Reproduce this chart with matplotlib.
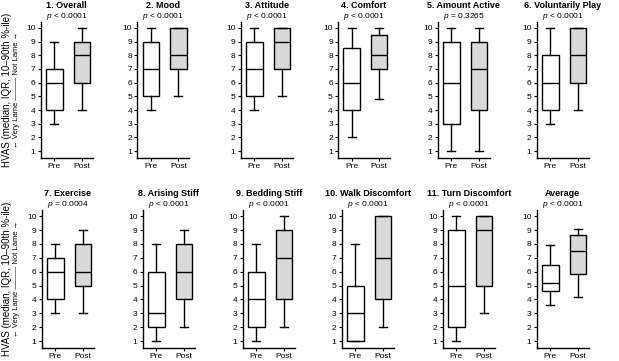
import matplotlib
matplotlib.use('Agg')
import matplotlib.pyplot as plt

# Panel titles and p-values
titles = ['1. Overall', '2. Mood', '3. Attitude', '4. Comfort', '5. Amount Active',
          '6. Voluntarily Play', '7. Exercise', '8. Arising Stiff', '9. Bedding Stiff',
          '10. Walk Discomfort', '11. Turn Discomfort', 'Average']
p_labels = ['< 0.0001', '< 0.0001', '< 0.0001', '< 0.0001', '= 0.3265', '< 0.0001',
            '= 0.0004', '< 0.0001', '< 0.0001', '< 0.0001', '< 0.0001', '< 0.0001']
groups = ['Pre', 'Post']

# 10th pct, Q1, median, Q3, 90th pct
pre_stats = [
    [3, 4, 6, 7, 9],
    [4, 5, 7, 9, 10],
    [4, 5, 7, 9, 10],
    [2, 4, 6, 8.5, 10],
    [1, 3, 6, 9, 10],
    [3, 4, 6, 8, 10],
    [3, 4, 6, 7, 8],
    [1, 2, 3, 6, 8],
    [1, 2, 4, 6, 8],
    [1, 1, 3, 5, 8],
    [1, 2, 5, 9, 10],
    [3.6, 4.6, 5.2, 6.5, 7.9],
]
post_stats = [
    [4, 6, 8, 9, 10],
    [5, 7, 8, 10, 10],
    [5, 7, 9, 10, 10],
    [4.8, 7, 8, 9.5, 10],
    [1, 4, 7, 9, 10],
    [4, 6, 8, 10, 10],
    [3, 5, 6, 8, 9],
    [2, 4, 6, 8, 9],
    [2, 4, 7, 9, 10],
    [2, 4, 7, 10, 10],
    [3, 5, 9, 10, 10],
    [4.2, 5.8, 7.5, 8.65, 9.1],
]

plt.rcParams['font.family'] = 'Liberation Sans'
plt.rcParams['mathtext.fontset'] = 'custom'
plt.rcParams['mathtext.it'] = 'Liberation Sans:italic'
plt.rcParams['mathtext.rm'] = 'Liberation Sans'

W, H = 619, 361
fig = plt.figure(figsize=(W / 100, H / 100), dpi=100)

# layout in pixels
row_lefts = [[40.7, 137.3, 240.7, 338, 437.7, 536.7],
             [41.7, 142.7, 242.7, 341.7, 442.7, 536.7]]
row_tops = [21.7, 210]
row_bottoms = [158, 348]
ax_w = 52

lw = 1.0
for i, title in enumerate(titles):
    r, c = divmod(i, 6)
    left = row_lefts[r][c]
    top, bottom = row_tops[r], row_bottoms[r]
    ax = fig.add_axes([left / W, (H - bottom) / H, ax_w / W, (bottom - top) / H])

    stats = []
    for g, s in zip(groups, [pre_stats[i], post_stats[i]]):
        stats.append(dict(label=g, whislo=s[0], q1=s[1], med=s[2], q3=s[3], whishi=s[4]))
    bp = ax.bxp(stats, positions=[1, 2], widths=0.6, capwidths=0.3, showfliers=False,
                patch_artist=True,
                boxprops=dict(linewidth=lw, edgecolor='black'),
                whiskerprops=dict(linewidth=lw, color='black'),
                capprops=dict(linewidth=lw, color='black'),
                medianprops=dict(linewidth=lw, color='black'))
    for patch, fc in zip(bp['boxes'], ['white', '#d9d9d9']):
        patch.set_facecolor(fc)

    ax.set_xlim(0.5, 2.4)
    ax.set_ylim(0.5, 10.45)
    ax.set_yticks(range(1, 11))
    ax.set_xticks([1, 2])
    ax.set_xticklabels(groups)
    ax.tick_params(labelsize=6, length=2.5, width=0.8, pad=1.2)
    for sp in ['top', 'right']:
        ax.spines[sp].set_visible(False)
    for sp in ['left', 'bottom']:
        ax.spines[sp].set_linewidth(1.0)

    ax.annotate(title, xy=(0.5, 1), xycoords='axes fraction', xytext=(0, 11.8),
                textcoords='offset points', ha='center', va='center',
                fontsize=6.5, fontweight='bold')
    ax.annotate('$p$ ' + p_labels[i], xy=(0.5, 1), xycoords='axes fraction', xytext=(0, 4),
                textcoords='offset points', ha='center', va='center', fontsize=6)

for r in range(2):
    yc = H - (row_tops[r] + row_bottoms[r]) / 2
    fig.text(7 / W, yc / H, 'HVAS (median, IQR, 10\u201390th %-ile)', rotation=90,
             ha='center', va='center', fontsize=7)
    fig.text(17 / W, yc / H, '\u2190 Very Lame \u2014\u2014\u2014 Not Lame \u2192', rotation=90,
             ha='center', va='center', fontsize=5.5)

fig.savefig('out.png', dpi=100)
